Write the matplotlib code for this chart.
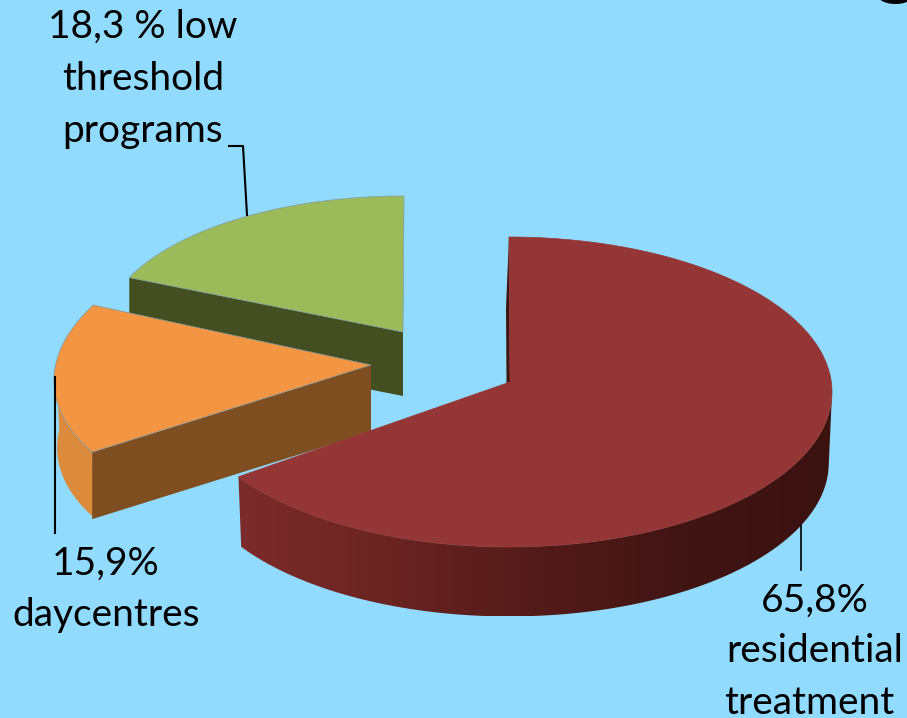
"""Exploded 3D-look pie of treatment settings."""

import matplotlib

matplotlib.use("Agg")

import matplotlib.pyplot as plt
import numpy as np
from matplotlib.colors import LinearSegmentedColormap
from matplotlib.patches import Polygon

plt.rcParams["font.family"] = ["Lato", "DejaVu Sans"]

categories = ["residential treatment", "daycentres", "low threshold programs"]
shares = [65.8, 15.9, 18.3]

label_lines = [
    ["65,8%", "residential", "treatment"],
    ["15,9%", "daycentres"],
    ["18,3 % low", "threshold", "programs"],
]

BG = "#91dbff"
EDGE = "#7f9aa3"
TOP_COLORS = ["#943635", "#f39543", "#9bba59"]
CUT_COLORS = ["#3f1513", "#7f4e20", "#434e21"]
RED_SIDE = LinearSegmentedColormap.from_list(
    "red_side", ["#7c2c2a", "#6a2422", "#531b1a", "#411514", "#3a1210"]
)

# pixel layout per slice: apex, ellipse centre, radii, depth, shear, base zorder
LAYOUT = [
    dict(apex=(510, 382), c=(509, 392), r=(323, 155), depth=71, shear=0.0, z=6),
    dict(apex=(371, 365), c=(372, 368), r=(317, 154), depth=67, shear=-0.17, z=3),
    dict(apex=(403, 332), c=(404, 334), r=(301, 138), depth=64, shear=0.0, z=0),
]


def rim(lay, theta, bottom=False):
    """Point on a slice's rim, theta in degrees clockwise from 12 o'clock."""
    t = np.atleast_1d(np.radians(theta))
    cx, cy = lay["c"]
    rx, ry = lay["r"]
    shrink = 0.99 if bottom else 1.0
    dy = -ry * np.cos(t)
    x = cx + shrink * rx * np.sin(t) + lay["shear"] * dy
    y = cy + shrink * dy + (lay["depth"] if bottom else 0)
    return np.column_stack([x, y])


def draw_slice(ax, i, start, end):
    lay = LAYOUT[i]
    z = lay["z"]
    thetas = np.linspace(start, end, 160)
    apex = np.array(lay["apex"], dtype=float)
    drop = np.array([0, lay["depth"]])

    # flat cut face: the red one is the thin back wall, the others face the viewer
    first = rim(lay, start)[0]
    if i == 0:
        shift = drop + [-3, 0]
        ax.add_patch(Polygon([first, apex, apex + shift, first + shift],
                             fc=CUT_COLORS[i], ec="none", zorder=z + 1))
    else:
        ax.add_patch(Polygon([apex, first, first + drop, apex + drop],
                             fc=CUT_COLORS[i], ec="none", zorder=z + 1))

    # curved outer wall
    if i == 0:
        side_t = np.linspace(92, end, 90)
        outline = np.vstack([rim(lay, side_t), rim(lay, side_t[::-1], True)])
        clip = Polygon(outline, transform=ax.transData, fc="none", ec="none")
        ax.add_patch(clip)
        gradient = np.linspace(0, 1, 256).reshape(1, -1)
        im = ax.imshow(
            gradient,
            cmap=RED_SIDE,
            extent=(outline[:, 0].min(), outline[:, 0].max(), outline[:, 1].max(), outline[:, 1].min()),
            aspect="auto",
            zorder=z,
        )
        im.set_clip_path(clip)
    elif i == 1:
        side_t = np.linspace(start, 272, 30)
        quad = np.vstack([rim(lay, side_t), rim(lay, side_t[::-1], True)])
        ax.add_patch(Polygon(quad, fc="#dc8a3c", ec="none", zorder=z))

    # top face
    top = np.vstack([apex, rim(lay, thetas)])
    ax.add_patch(Polygon(top, fc=TOP_COLORS[i], ec=EDGE if i else TOP_COLORS[i], lw=0.5, zorder=z + 2))


fig = plt.figure(figsize=(9.07, 7.18), dpi=100, facecolor=BG)
ax = fig.add_axes([0, 0, 1, 1])
ax.axis("off")

bounds = np.concatenate([[0], np.cumsum(shares)]) / sum(shares) * 360

for i in [2, 1, 0]:
    draw_slice(ax, i, bounds[i], bounds[i + 1])

ax.set_xlim(0, 907)
ax.set_ylim(718, 0)

# leader lines
ax.plot([229, 243, 247], [146, 146, 215], color="black", lw=1.5, zorder=40)
ax.plot([55, 55], [377, 533], color="black", lw=1.5, zorder=40)
ax.plot([801, 801], [525, 570], color="black", lw=1.2, zorder=40)

# labels
label_pos = [
    ([815, 815, 809], [601, 651, 703]),
    ([106, 106], [564, 615]),
    ([143, 143, 143], [27, 79, 131]),
]
for lines, (xs, ys) in zip(label_lines, label_pos):
    for line, x, y in zip(lines, xs, ys):
        ax.text(x, y, line, ha="center", va="center", fontsize=28, color="black", zorder=50)

# cut-off title descender in the corner
ax.text(897, -12, "g", ha="center", va="baseline", fontsize=62, fontweight="bold", color="black", zorder=50)

fig.savefig("out.png", dpi=100, facecolor=BG)
